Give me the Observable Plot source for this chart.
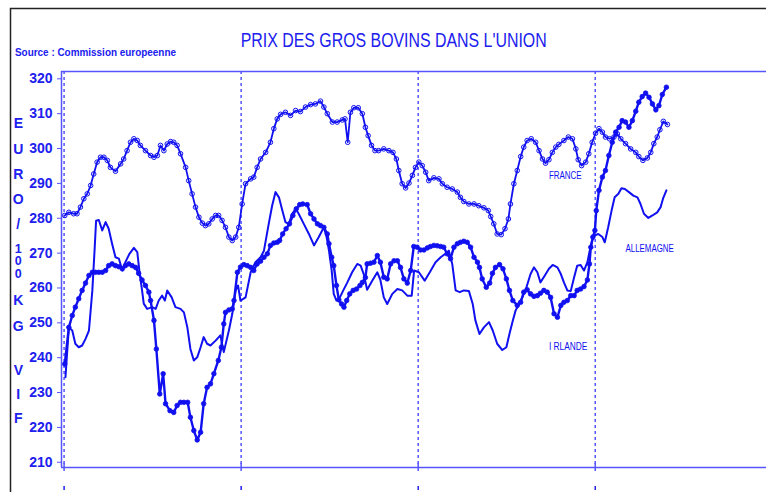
<!DOCTYPE html>
<html><head><meta charset="utf-8">
<script src="https://cdn.jsdelivr.net/npm/d3@7"></script>
<script src="https://cdn.jsdelivr.net/npm/@observablehq/plot@0.6"></script>
<style>
html,body{margin:0;padding:0;background:#fff;}
#chart{width:766px;height:492px;overflow:hidden;position:relative;background:#fff;}
</style></head>
<body><div id="chart"></div>
<script>
// ---- data (x = weeks from first gridline, y = EURO / 100 kg vif) ----
const frWeeks = [0.2,1.4,2.8,3.8,4.8,5.8,6.8,7.8,8.7,9.7,10.7,11.7,12.7,13.6,15.1,16.6,17.5,18.5,19.5,20.5,21.5,22.4,23.9,25.4,26.4,27.4,28.3,29.3,30.3,31.3,32.2,33.2,34.2,35.7,36.6,37.6,38.6,39.6,40.6,41.5,42.5,43.5,44.5,45.4,46.4,47.4,48.4,49.4,50.4,51.3,52.3,53.3,54.8,55.7,56.7,57.7,59.2,60.6,61.6,62.6,63.6,65.0,66.5,68.0,69.4,70.9,72.4,73.8,75.3,76.3,77.3,78.8,80.2,81.7,82.5,83.3,84.1,85.1,86.4,87.6,88.5,89.3,90.3,91.3,92.4,93.9,95.4,96.6,97.6,98.3,99.3,100.3,101.3,102.3,103.2,104.2,105.2,106.2,107.1,108.6,110.1,111.1,112.5,114.0,115.5,116.4,117.4,118.9,120.4,121.8,123.3,124.6,125.3,126.2,127.2,128.4,129.5,130.5,131.1,132.1,133.1,134.1,135.0,136.0,137.2,138.5,139.5,140.5,141.4,142.4,143.4,144.4,145.3,146.8,148.1,149.3,150.3,151.0,152.0,153.2,154.1,155.1,156.1,157.1,158.1,159.0,160.2,161.5,162.5,163.5,164.9,166.4,167.9,168.8,170.0,171.3,172.3,173.2,174.2,175.0,176.0,177.2];
const frValues = [280.8,281.7,281.3,281.3,283.2,285.6,287,289.4,292.7,296.1,297.5,297.5,296.6,294.6,293.5,295.6,297,299.4,301.8,302.8,302.3,300.9,299.4,298,297.5,298,300.9,299.4,301.3,302,301.8,300.9,298.5,294.6,290.8,287,283.2,280.3,278.6,277.9,278.4,279.8,280.8,280.8,279.4,277.4,274.6,273.6,274.6,277.4,284.1,289.9,291.3,291.8,294.6,297,298.9,301.8,305.7,308.5,309.8,310.4,309.5,310.9,310.6,311.9,312.6,312.8,313.6,311.9,310,307.6,307.6,308.2,308.5,301.8,310.4,311.7,311.7,310,306.1,303.7,300.9,299.4,299.4,299.9,299.4,298.9,297,293.7,289.9,288.7,290.1,292.3,294.6,296.1,295.1,293.2,290.8,291.6,291.3,289.9,288.9,288.4,287.5,286,284.8,284.1,284.1,283.6,283,282.2,280.5,278.4,275.5,275.3,277,279.8,284.1,289.9,293.7,297.7,300.4,302.3,302.8,301.8,299.4,297,295.8,296.8,298.9,300.4,301.2,302.3,303.3,302.8,299.9,296.8,295.1,296.1,298.5,301.8,304.4,305.7,304.7,303.3,302.8,303.3,304.2,302.8,301.4,299.9,298.9,297.7,296.6,297.3,298.9,301.4,303.3,305.4,307.8,306.9];

const irWeeks = [0.2,1.4,2.4,3.3,4.3,5.3,6.3,7.3,8.3,9.2,10.2,11.2,12.2,13.1,14.1,15.1,16.1,17.1,18.0,19.0,20.0,21.0,21.9,22.9,23.9,24.9,25.4,26.4,27.1,28.1,29.1,29.8,31.1,32.2,33.2,34.2,35.2,36.3,37.1,38.1,39.1,40.1,41.0,42.0,43.0,44.0,45.3,46.2,46.9,47.4,48.4,49.4,49.9,50.9,51.8,52.8,53.8,54.8,55.7,56.7,57.7,58.7,59.7,60.6,61.6,62.6,63.3,64.2,65.2,66.2,67.2,68.2,69.2,70.1,71.4,72.4,73.4,74.4,75.3,76.3,77.3,77.8,78.6,79.2,80.0,80.7,81.5,82.2,83.0,83.9,84.9,85.9,86.9,87.6,88.5,89.0,90.0,91.0,92.0,92.9,93.9,94.9,95.9,96.9,97.9,98.8,99.8,100.8,101.8,102.7,103.7,104.7,105.7,106.7,107.6,108.6,109.6,110.6,111.5,112.5,113.5,114.5,115.5,116.4,117.4,118.4,119.4,120.4,121.4,122.0,122.8,124.0,125.0,125.8,126.7,127.9,128.9,129.9,130.8,131.8,133.1,134.1,135.0,136.0,137.0,138.0,139.0,139.9,140.9,141.9,142.9,143.9,144.9,145.9,146.8,147.8,148.8,149.8,150.7,151.7,152.7,153.7,154.3,154.7,155.3,155.9,156.3,157.1,158.1,159.0,160.0,161.0,162.0,163.0,163.9,164.9,165.9,166.9,167.9,168.8,169.8,170.8,171.8,172.8,173.8,174.7,175.7,176.9];
const irValues = [238.2,248.7,252.1,254.5,256.9,259.3,261.4,263.6,264.5,264.5,264.5,264.5,265,266.4,266.9,266.4,266.1,265.5,266.4,266.9,266.4,265.9,264.2,262.3,260.7,258.8,256.4,250.7,242.5,229.6,235.4,226.8,224.8,224.3,226.3,227.2,227.2,227.2,222.9,219.1,216.4,218.6,226.8,231.5,232.5,235.4,239.2,243,249.7,253,253.7,254,256.4,264.5,266,266.7,266.4,265.9,265,266.9,267.7,268.8,269.8,272.2,272.9,273.1,273.6,275.5,277,278.4,280.8,282.7,283.9,284.1,283.9,281.3,279.8,278.4,277.9,277.4,275.5,272.7,268.8,266.4,260.7,256.6,255.4,254.5,256.4,258.3,259.3,259.7,260.7,261.6,263,266.9,267.1,267.4,269.3,267.4,263.1,262.6,266.9,267.8,267.8,265.9,262.6,261.4,265,271.9,271.7,270.9,270.9,271.5,271.9,272.2,272.1,271.9,271.7,269.8,268.4,271.7,272.7,273.1,273.4,273.1,271.7,268.8,267.4,265.9,262.6,260.2,261.4,264.2,265.9,266.7,265.5,262.6,259.3,256.4,255,255.9,258.8,259.5,258.3,257.6,257.8,258.5,259.3,258.8,257.3,252.6,251.6,255,255.9,256.4,257.8,257.8,259.3,259.7,260.4,262.3,266.9,271.7,274.6,276.5,282.2,288,291.8,293.7,298,301.8,304.7,306.1,308,307.6,306.1,308,310.7,313.3,314.9,315.9,314.7,312.8,311.1,312.3,315.5,317.6];

const alWeeks = [0.4,1.4,2.4,3.3,4.3,5.3,6.3,7.3,8.3,9.0,9.4,10.2,11.2,12.2,13.1,14.1,15.1,16.1,17.1,18.0,19.2,20.5,21.5,22.1,22.9,23.4,24.4,25.9,26.9,27.8,28.8,29.6,30.3,31.6,32.7,34.2,35.2,36.2,37.1,38.1,39.1,40.1,41.0,42.0,43.0,44.5,45.9,46.9,48.4,49.4,50.4,51.1,51.8,53.3,54.8,56.2,57.7,58.7,60.1,61.1,62.1,63.1,64.1,65.0,66.0,67.0,68.0,68.9,70.4,71.9,73.4,74.8,76.3,77.1,77.8,78.6,79.2,80.0,81.0,82.0,83.2,84.6,86.1,87.1,88.0,89.0,90.5,92.0,92.9,93.9,94.9,96.4,97.9,99.3,100.8,102.1,102.8,104.2,105.9,107.4,109.1,110.6,112.0,113.0,114.0,115.0,116.2,117.4,118.9,120.0,120.8,122.0,123.3,124.8,125.9,127.2,128.7,129.9,130.8,131.8,132.6,133.6,134.6,135.8,137.0,138.0,139.0,139.9,141.2,142.4,143.5,144.9,145.9,146.8,147.8,148.8,149.8,150.7,151.7,152.7,153.7,154.3,155.1,155.9,156.9,158.1,158.8,159.8,160.8,161.7,162.8,163.7,164.7,165.9,167.2,168.4,169.3,170.3,171.6,172.8,174.2,175.2,175.9,176.9];
const alValues = [234.4,248.7,247.8,244,243,243.5,245.4,247.8,259.3,271.7,279.3,279.5,276.5,278.9,277,272.7,268.8,268.4,265,267.4,269.8,271.5,270.3,265,259.3,255.5,254,254.5,254,256.4,257.8,256.4,259.3,257.3,254.5,254,253,248.7,242.5,239.2,240.1,243,245.9,244,243.5,244.9,246.4,241.6,247.8,252.6,259.3,260.7,256.4,257.3,264.5,267.4,268.8,270.7,278.4,283.6,287.5,286,282.2,278.9,278.4,281.3,282.7,281.3,278.4,275.5,272.2,274.6,277.4,274.6,270.7,265,258.3,256.4,257.3,259.3,261.6,264.5,266.9,266.4,264,259.5,262.1,264.5,262.3,257.3,255.4,258.3,259.7,259.3,257.8,257.8,265,264.5,262.1,264.5,267.4,268.8,269.8,270.7,266.9,259.3,258.8,259.3,259.1,255.5,250.7,246.8,248.7,250.2,247.8,244,242.2,243,246.8,250.7,253.5,255.4,257.3,260.2,264,265.9,264.5,261.6,263.6,265.5,266.6,265.9,264,261.6,259.3,259.1,263.1,266.4,266.6,265,267.4,270.3,273.6,275,275.5,274.6,273.1,277.4,282.2,286,287,288.6,288.4,287.5,286.5,286,284.1,281.3,280.1,280.8,281.7,283.2,285.6,288];

const gridWeeks = [0, 52, 104, 156];
const yTicks = [210, 220, 230, 240, 250, 260, 270, 280, 290, 300, 310, 320];
const seriesLabels = ["FRANCE", "ALLEMAGNE", "I RLANDE"];
const labelWeeks = [142.4, 164.9, 142.4];
const labelValues = [292.2, 271.2, 243.2];
const titleText = "PRIX DES GROS BOVINS DANS L'UNION";
const sourceText = "Source : Commission europeenne";
const yTitle = "EURO/100KG VIF";

// ---- layout / style ----
const xDomain = [-0.76, 206.3];
const yDomain = [208.5, 322.1];
const blue = "#1010f0";
const axisBlue = "#5555ff";
const textBlue = "#2020ee";
const font = "'Liberation Sans', Arial, sans-serif";

const fr = frWeeks.map((w, i) => ({w, v: frValues[i]}));
const ir = irWeeks.map((w, i) => ({w, v: irValues[i]}));
const al = alWeeks.map((w, i) => ({w, v: alValues[i]}));
const labels = seriesLabels.map((t, i) => ({t, w: labelWeeks[i], v: labelValues[i]}));

const chart = Plot.plot({
  width: 766, height: 492,
  marginLeft: 61, marginRight: 0, marginTop: 71, marginBottom: 25,
  style: {fontFamily: font, background: "white", overflow: "visible"},
  x: {domain: xDomain, axis: null},
  y: {domain: yDomain, axis: null},
  marks: [
    Plot.ruleX(gridWeeks, {stroke: axisBlue, strokeWidth: 1.5, strokeDasharray: "3,3"}),
    Plot.ruleY([yDomain[1]], {stroke: axisBlue, strokeWidth: 1.5}),
    Plot.ruleY([yDomain[0]], {stroke: axisBlue, strokeWidth: 1.5}),
    Plot.ruleX([xDomain[0]], {stroke: axisBlue, strokeWidth: 1.5}),
    Plot.axisY({ticks: yTicks, label: null, tickSize: 4, tickPadding: 5, fontSize: 14, fontWeight: "bold",
      color: textBlue, stroke: axisBlue, fill: textBlue, tickFormat: d => String(d)}),
    Plot.axisX({ticks: gridWeeks, label: null, tickSize: 4, tickFormat: () => "",
      color: axisBlue, stroke: axisBlue, strokeWidth: 1.5}),
    Plot.axisX({ticks: gridWeeks, label: null, tickSize: 4, dy: -4, tickFormat: () => "",
      color: axisBlue, stroke: axisBlue, strokeWidth: 1.5}),
    Plot.axisX({ticks: gridWeeks, label: null, tickSize: 4, dy: 19, tickFormat: () => "",
      color: textBlue, stroke: textBlue, strokeWidth: 1.5}),
    Plot.line(al, {x: "w", y: "v", stroke: blue, strokeWidth: 2}),
    Plot.line(fr, {x: "w", y: "v", stroke: blue, strokeWidth: 1.8}),
    Plot.dot(fr, {x: "w", y: "v", stroke: blue, fill: "none", r: 2.3, strokeWidth: 1}),
    Plot.line(ir, {x: "w", y: "v", stroke: blue, strokeWidth: 2.4}),
    Plot.dot(ir, {x: "w", y: "v", fill: blue, stroke: blue, r: 2.3, strokeWidth: 0.8}),
    Plot.text(labels, {x: "w", y: "v", text: "t", textAnchor: "start", fontSize: 11, fill: blue})
  ]
});
document.getElementById("chart").appendChild(chart);

const svg = d3.select(chart);
// condense series labels
const labelLengths = [32.7, 48.3, 38.4];
svg.selectAll('g[aria-label="text"] text').each(function(d, i) {
  d3.select(this).attr("textLength", labelLengths[i]).attr("lengthAdjust", "spacingAndGlyphs");
});
// outer black frame
svg.append("path").attr("d", "M10.5,492 V8.5 H766").attr("fill", "none").attr("stroke", "#222").attr("stroke-width", 1.5);
// title
svg.append("text").text(titleText).attr("x", 240.7).attr("y", 46.7).attr("text-anchor", "start")
  .attr("font-family", font).attr("font-size", 20).attr("fill", textBlue)
  .attr("textLength", 306).attr("lengthAdjust", "spacingAndGlyphs");
// source
svg.append("text").text(sourceText).attr("x", 15).attr("y", 55.7).attr("text-anchor", "start")
  .attr("font-family", font).attr("font-size", 10.5).attr("font-weight", "bold").attr("fill", textBlue)
  .attr("textLength", 161).attr("lengthAdjust", "spacingAndGlyphs");
// vertical stacked y title
const yTitleCenters = [123.3, 148.5, 173.5, 198.5, 223.5, 248.5, 261, 273.5, 300, 325.5, null, 370, 394, 417.7];
const yt = svg.append("text").attr("font-family", font).attr("font-weight", "bold")
  .attr("fill", textBlue).attr("text-anchor", "middle");
yTitle.split("").forEach((ch, i) => {
  if (ch === " ") return;
  const tight = i >= 5 && i <= 7;
  yt.append("tspan").attr("x", 18.3).attr("y", yTitleCenters[i] + (tight ? 4.3 : 5))
    .attr("font-size", tight ? 12.5 : 14).text(ch);
});
</script>
</body></html>
